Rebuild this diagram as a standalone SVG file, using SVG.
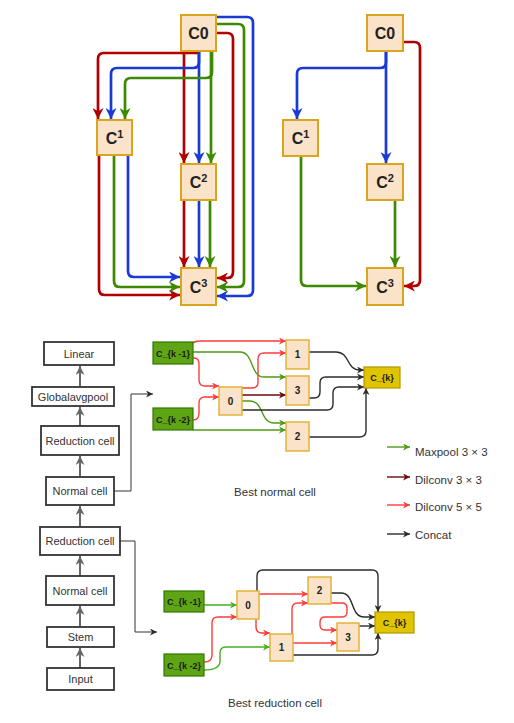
<svg xmlns="http://www.w3.org/2000/svg" width="514" height="723" viewBox="0 0 514 723">
<style>
.tn{fill:#fbe3c9;stroke:#d9a51f;stroke-width:2}
.tl{font-family:"Liberation Sans",Arial,sans-serif;font-weight:bold;font-size:16px;fill:#222;text-anchor:middle}
.sup{font-size:11px}
.e{fill:none;stroke-width:2.7}
.r{stroke:#b20000}.b{stroke:#1a3ad6}.g{stroke:#3d8a00}
.sb{fill:#fff;stroke:#333;stroke-width:1.8}
.st{font-family:"Liberation Sans",Arial,sans-serif;font-size:11px;fill:#333;text-anchor:middle}
.ga{fill:none;stroke:#666;stroke-width:2}
.thin{fill:none;stroke:#333;stroke-width:1}
.gn{fill:#5ea414;stroke:#2d7a00;stroke-width:1.2}
.yn{fill:#e0c400;stroke:#b39600;stroke-width:1.2}
.on{fill:#fbe3c9;stroke:#e3b33a;stroke-width:1.5}
.bt{font-family:"Liberation Sans",Arial,sans-serif;font-weight:bold;font-size:9px;fill:#1a1a1a;text-anchor:middle}
.nt{font-family:"Liberation Sans",Arial,sans-serif;font-weight:bold;font-size:10px;fill:#222;text-anchor:middle}
.s{fill:none;stroke-width:1.4}
.sr{stroke:#ff3b3b}.sd{stroke:#6d0a0a}.sg{stroke:#4e9a17}.sk{stroke:#2b2b2b}.sg2{stroke:#45b020}
.cap{font-family:"Liberation Sans",Arial,sans-serif;font-size:11.5px;fill:#333}
</style>
<defs>
<marker id="aR" markerUnits="userSpaceOnUse" markerWidth="11" markerHeight="11" viewBox="0 0 10 10" refX="10" refY="5" orient="auto"><path d="M0,0 L10,5 L0,10 L3,5 z" fill="#b20000"/></marker>
<marker id="aB" markerUnits="userSpaceOnUse" markerWidth="11" markerHeight="11" viewBox="0 0 10 10" refX="10" refY="5" orient="auto"><path d="M0,0 L10,5 L0,10 L3,5 z" fill="#1a3ad6"/></marker>
<marker id="aG" markerUnits="userSpaceOnUse" markerWidth="11" markerHeight="11" viewBox="0 0 10 10" refX="10" refY="5" orient="auto"><path d="M0,0 L10,5 L0,10 L3,5 z" fill="#3d8a00"/></marker>
<marker id="aGray" markerUnits="userSpaceOnUse" markerWidth="9" markerHeight="9" viewBox="0 0 10 10" refX="10" refY="5" orient="auto"><path d="M0,0 L10,5 L0,10 L3,5 z" fill="#666"/></marker>
<marker id="sK" markerUnits="userSpaceOnUse" markerWidth="7" markerHeight="7" viewBox="0 0 10 10" refX="10" refY="5" orient="auto"><path d="M0,0 L10,5 L0,10 L3,5 z" fill="#2b2b2b"/></marker>
<marker id="sR" markerUnits="userSpaceOnUse" markerWidth="7" markerHeight="7" viewBox="0 0 10 10" refX="10" refY="5" orient="auto"><path d="M0,0 L10,5 L0,10 L3,5 z" fill="#ff3b3b"/></marker>
<marker id="sD" markerUnits="userSpaceOnUse" markerWidth="7" markerHeight="7" viewBox="0 0 10 10" refX="10" refY="5" orient="auto"><path d="M0,0 L10,5 L0,10 L3,5 z" fill="#6d0a0a"/></marker>
<marker id="sG" markerUnits="userSpaceOnUse" markerWidth="7" markerHeight="7" viewBox="0 0 10 10" refX="10" refY="5" orient="auto"><path d="M0,0 L10,5 L0,10 L3,5 z" fill="#4e9a17"/></marker>
<marker id="sG2" markerUnits="userSpaceOnUse" markerWidth="7" markerHeight="7" viewBox="0 0 10 10" refX="10" refY="5" orient="auto"><path d="M0,0 L10,5 L0,10 L3,5 z" fill="#45b020"/></marker>
</defs>
<rect width="514" height="723" fill="#fff"/>

<g id="connectors">
<!-- top-left graph -->
<path class="e b" d="M216,17 H247 Q253,17 253,23 V290 Q253,296 247,296 H217" marker-end="url(#aB)"/>
<path class="e g" d="M216,24 H238 Q244,24 244,30 V281 Q244,287 238,287 H217" marker-end="url(#aG)"/>
<path class="e r" d="M216,33 H227 Q233,33 233,39 V272 Q233,278 227,278 H217" marker-end="url(#aR)"/>
<path class="e r" d="M184,51 V163" marker-end="url(#aR)"/>
<path class="e b" d="M199,51 V163" marker-end="url(#aB)"/>
<path class="e g" d="M211,51 V163" marker-end="url(#aG)"/>
<path class="e r" d="M200,53 H104 Q98,53 98,59 V119" marker-end="url(#aR)"/>
<path class="e b" d="M199,51 V62 Q199,68 193,68 H117 Q111,68 111,74 V119" marker-end="url(#aB)"/>
<path class="e g" d="M212,51 V72 Q212,78 206,78 H131 Q125,78 125,84 V119" marker-end="url(#aG)"/>
<path class="e r" d="M99,155 V289 Q99,295 105,295 H180" marker-end="url(#aR)"/>
<path class="e g" d="M114,155 V281 Q114,287 120,287 H180" marker-end="url(#aG)"/>
<path class="e b" d="M128,155 V271 Q128,277 134,277 H180" marker-end="url(#aB)"/>
<path class="e r" d="M184,200 V267" marker-end="url(#aR)"/>
<path class="e b" d="M199,200 V267" marker-end="url(#aB)"/>
<path class="e g" d="M210,200 V267" marker-end="url(#aG)"/>
<!-- top-right graph -->
<path class="e b" d="M386,51 V163" marker-end="url(#aB)"/>
<path class="e b" d="M386,51 V62 Q386,68 380,68 H303 Q297,68 297,74 V119" marker-end="url(#aB)"/>
<path class="e r" d="M403,42 H414 Q420,42 420,48 V280 Q420,286 414,286 H404" marker-end="url(#aR)"/>
<path class="e g" d="M301,156 V280 Q301,286 307,286 H366" marker-end="url(#aG)"/>
<path class="e g" d="M395,200 V267" marker-end="url(#aG)"/>
<!-- stack arrows -->
<path class="ga" d="M80,387 V366" marker-end="url(#aGray)"/>
<path class="ga" d="M80,426 V407" marker-end="url(#aGray)"/>
<path class="ga" d="M80,477 V456" marker-end="url(#aGray)"/>
<path class="ga" d="M80,527 V506" marker-end="url(#aGray)"/>
<path class="ga" d="M80,576 V556" marker-end="url(#aGray)"/>
<path class="ga" d="M80,627 V606" marker-end="url(#aGray)"/>
<path class="ga" d="M80,668 V648" marker-end="url(#aGray)"/>
<path class="thin" d="M114,491 H131 V394 H153" marker-end="url(#sK)"/>
<path class="thin" d="M120,541 H135 V632 H157" marker-end="url(#sK)"/>
<!-- best normal cell -->
<path class="s sr" d="M192,344 Q194,341 200,341 H286" marker-end="url(#sR)"/>
<path class="s sr" d="M193,358 H194 Q199,358 199,364 V380 Q199,386 205,386 H219" marker-end="url(#sR)"/>
<path class="s sr" d="M193,420 Q199,420 199,413 V403 Q199,397 205,397 H219" marker-end="url(#sR)"/>
<path class="s sr" d="M242,388 H252 Q258,388 258,382 V359 Q258,353 264,353 H286" marker-end="url(#sR)"/>
<path class="s sd" d="M242,395 H286" marker-end="url(#sD)"/>
<path class="s sg" d="M193,352 H240 C254,352 250,377 264,377 H286" marker-end="url(#sG)"/>
<path class="s sg" d="M242,401 H250 C264,401 260,423 274,423 H286" marker-end="url(#sG)"/>
<path class="s sg" d="M193,430 H286" marker-end="url(#sG)"/>
<path class="s sk" d="M309,352 H336 C350,352 346,370 360,370 H364" marker-end="url(#sK)"/>
<path class="s sk" d="M309,398 H314 Q320,398 320,392 V383 Q320,377 326,377 H364" marker-end="url(#sK)"/>
<path class="s sk" d="M242,410 H327 Q333,410 333,404 V393 Q333,387 339,387 H364" marker-end="url(#sK)"/>
<path class="s sk" d="M309,437 H359 Q366,437 366,431 V388" marker-end="url(#sK)"/>
<!-- best reduction cell -->
<path class="s sg2" d="M204,605 H237" marker-end="url(#sG2)"/>
<path class="s sr" d="M204,662 Q212,662 212,655 V623 Q212,617 218,617 H237" marker-end="url(#sR)"/>
<path class="s sg2" d="M204,670 Q220,670 220,661 V653 Q220,647 226,647 H270" marker-end="url(#sG2)"/>
<path class="s sr" d="M256,619 V627 Q256,633 262,633 H270" marker-end="url(#sR)"/>
<path class="s sk" d="M257,591 V576 Q257,570 263,570 H372 Q378,570 378,576 V612" marker-end="url(#sK)"/>
<path class="s sr" d="M259,594 H308" marker-end="url(#sR)"/>
<path class="s sr" d="M292,634 V609 Q292,603 298,603 H308" marker-end="url(#sR)"/>
<path class="s sr" d="M331,603 H342 Q347,603 347,608 V612 Q347,617 342,617 H325 Q320,617 320,622 V625 Q320,630 325,630 H337" marker-end="url(#sR)"/>
<path class="s sr" d="M293,643 H337" marker-end="url(#sR)"/>
<path class="s sk" d="M331,593 H341 C355,593 350,617 364,617 H375" marker-end="url(#sK)"/>
<path class="s sk" d="M359,626 H375" marker-end="url(#sK)"/>
<path class="s sk" d="M293,655 H372 Q378,655 378,649 V633" marker-end="url(#sK)"/>
<!-- legend arrows -->
<path class="s sg" d="M387,447 H410" marker-end="url(#sG)"/>
<path class="s sd" d="M387,477 H410" marker-end="url(#sD)"/>
<path class="s sr" d="M387,505 H410" marker-end="url(#sR)"/>
<path class="s sk" d="M387,534 H410" marker-end="url(#sK)"/>
</g>

<!-- top-left graph nodes -->
<g id="tl-c0"><rect class="tn" x="181" y="15" width="35" height="36"/><text class="tl" x="198.5" y="39">C0</text></g>
<g id="tl-c1"><rect class="tn" x="97" y="120" width="35" height="35"/><text class="tl" x="114.5" y="143.5">C<tspan class="sup" dy="-6">1</tspan></text></g>
<g id="tl-c2"><rect class="tn" x="181" y="164" width="35" height="36"/><text class="tl" x="198.5" y="188">C<tspan class="sup" dy="-6">2</tspan></text></g>
<g id="tl-c3"><rect class="tn" x="181" y="268" width="35" height="37"/><text class="tl" x="198.5" y="292.5">C<tspan class="sup" dy="-6">3</tspan></text></g>
<!-- top-right graph nodes -->
<g id="tr-c0"><rect class="tn" x="367" y="15" width="36" height="36"/><text class="tl" x="385" y="39">C0</text></g>
<g id="tr-c1"><rect class="tn" x="283" y="120" width="35" height="36"/><text class="tl" x="300.5" y="144">C<tspan class="sup" dy="-6">1</tspan></text></g>
<g id="tr-c2"><rect class="tn" x="367" y="164" width="36" height="36"/><text class="tl" x="385" y="188">C<tspan class="sup" dy="-6">2</tspan></text></g>
<g id="tr-c3"><rect class="tn" x="367" y="268" width="36" height="37"/><text class="tl" x="385" y="292.5">C<tspan class="sup" dy="-6">3</tspan></text></g>

<!-- stack -->
<g id="s-linear"><rect class="sb" x="44" y="342" width="70" height="23"/><text class="st" x="79" y="357.5">Linear</text></g>
<g id="s-gap"><rect class="sb" x="32" y="387" width="82" height="19"/><text class="st" x="73" y="400.5">Globalavgpool</text></g>
<g id="s-red2"><rect class="sb" x="41" y="426" width="78" height="29"/><text class="st" x="80" y="444.5">Reduction cell</text></g>
<g id="s-norm2"><rect class="sb" x="46" y="477" width="68" height="28"/><text class="st" x="80" y="495">Normal cell</text></g>
<g id="s-red1"><rect class="sb" x="40" y="527" width="80" height="28"/><text class="st" x="80" y="545">Reduction cell</text></g>
<g id="s-norm1"><rect class="sb" x="46" y="576" width="68" height="29"/><text class="st" x="80" y="594.5">Normal cell</text></g>
<g id="s-stem"><rect class="sb" x="47" y="627" width="67" height="20"/><text class="st" x="80.5" y="641">Stem</text></g>
<g id="s-input"><rect class="sb" x="47" y="668" width="67" height="22"/><text class="st" x="80.5" y="683">Input</text></g>

<!-- best normal cell -->
<g id="n-ck1"><rect class="gn" x="153" y="342" width="40" height="22"/><text class="bt" x="173" y="356.5">C_{k -1}</text></g>
<g id="n-ck2"><rect class="gn" x="153" y="408" width="40" height="22"/><text class="bt" x="173" y="422.5">C_{k -2}</text></g>
<g id="n-0"><rect class="on" x="219" y="387" width="23" height="28"/><text class="nt" x="230.5" y="404.5">0</text></g>
<g id="n-1"><rect class="on" x="286" y="340" width="23" height="29"/><text class="nt" x="297.5" y="358">1</text></g>
<g id="n-3"><rect class="on" x="286" y="376" width="23" height="29"/><text class="nt" x="297.5" y="394">3</text></g>
<g id="n-2"><rect class="on" x="286" y="422" width="23" height="29"/><text class="nt" x="297.5" y="440">2</text></g>
<g id="n-ck"><rect class="yn" x="364" y="367" width="36" height="21"/><text class="bt" x="382" y="381">C_{k}</text></g>
<text class="cap" x="275" y="496" text-anchor="middle">Best normal cell</text>

<!-- best reduction cell -->
<g id="r-ck1"><rect class="gn" x="164" y="591" width="40" height="21"/><text class="bt" x="184" y="605">C_{k -1}</text></g>
<g id="r-ck2"><rect class="gn" x="164" y="654" width="40" height="22"/><text class="bt" x="184" y="668.5">C_{k -2}</text></g>
<g id="r-0"><rect class="on" x="237" y="591" width="22" height="28"/><text class="nt" x="248" y="608.5">0</text></g>
<g id="r-1"><rect class="on" x="270" y="634" width="23" height="27"/><text class="nt" x="281.5" y="651">1</text></g>
<g id="r-2"><rect class="on" x="308" y="577" width="23" height="27"/><text class="nt" x="319.5" y="594">2</text></g>
<g id="r-3"><rect class="on" x="337" y="623" width="22" height="28"/><text class="nt" x="348" y="640.5">3</text></g>
<g id="r-ck"><rect class="yn" x="375" y="612" width="39" height="21"/><text class="bt" x="394.5" y="626">C_{k}</text></g>
<text class="cap" x="275" y="707" text-anchor="middle">Best reduction cell</text>

<!-- legend -->
<g id="legend">
<text class="cap" x="415" y="456">Maxpool 3 × 3</text>
<text class="cap" x="415" y="484">Dilconv 3 × 3</text>
<text class="cap" x="415" y="511">Dilconv 5 × 5</text>
<text class="cap" x="415" y="539">Concat</text>
</g>
</svg>
